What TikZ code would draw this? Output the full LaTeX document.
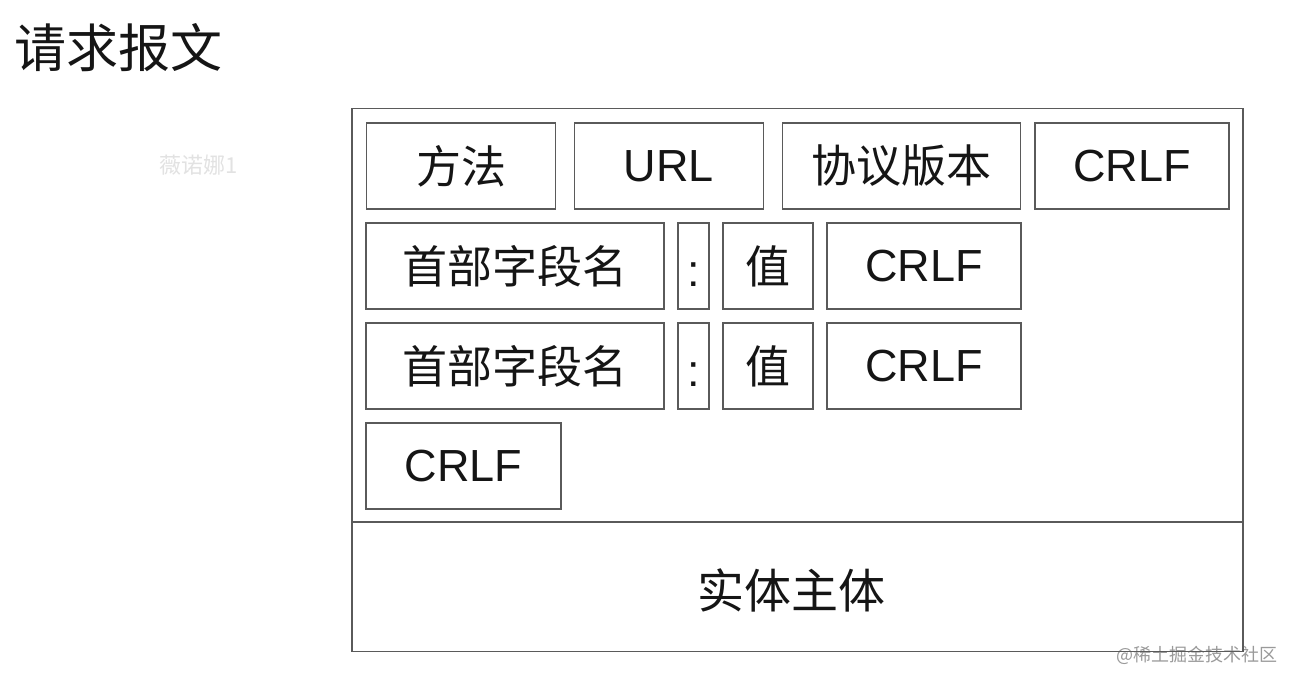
\documentclass[tikz,border=0pt]{standalone}
\usepackage{fontspec}
\setmainfont{Liberation Sans}
\newfontfamily\cjk{Noto Sans CJK SC}
\definecolor{boxline}{HTML}{5A5A5A}
\definecolor{txt}{HTML}{151515}
\definecolor{wmark}{HTML}{E2E2E2}
\definecolor{wmark2}{HTML}{9A9A9A}
\begin{document}
\begin{tikzpicture}[x=1pt,y=-1pt,
  cell/.style={draw=boxline, line width=1.8pt, inner sep=0pt, text=txt,
    font=\fontsize{45}{45}\selectfont},
  cjkcell/.style={cell, font=\cjk\fontsize{45}{45}\selectfont},
  frame/.style={draw=boxline, line width=1.8pt}
]
\useasboundingbox (0,0) rectangle (1300,686);
\fill[white] (0,0) rectangle (1300,686);
% title
\node[anchor=west, text=txt, font=\cjk\fontsize{52}{52}\selectfont] (title) at (11,48) {请求报文};
% watermark
\node[text=wmark, font=\cjk\fontsize{22}{22}\selectfont] (wm) at (199,165) {薇诺娜1};
\node[anchor=east, text=wmark2, font=\cjk\fontsize{18}{18}\selectfont] (wm2) at (1281,655) {@稀土掘金技术社区};
% outer frame
\node[frame, minimum width=891pt, minimum height=543pt, inner sep=0pt] (outer) at (797.5,380) {};
\coordinate (divL) at (352,522);
\coordinate (divR) at (1243,522);
\draw[frame] (divL) -- (divR);
% row 1
\node[cjkcell, minimum width=189pt, minimum height=86pt] (method) at (461,166) {方法};
\node[cell, minimum width=189pt, minimum height=86pt] (url) at (669,166) {URL};
\node[cjkcell, minimum width=238pt, minimum height=86pt] (ver) at (901.5,166) {协议版本};
\node[cell, minimum width=194pt, minimum height=86pt] (crlf1) at (1132,166) {CRLF};
% row 2
\node[cjkcell, minimum width=298pt, minimum height=86pt] (h1) at (515,266) {首部字段名};
\node[cell, minimum width=31pt, minimum height=86pt] (c1) at (693.5,266) {\smash{\raisebox{-20pt}{:}}};
\node[cjkcell, minimum width=90pt, minimum height=86pt] (v1) at (768,266) {值};
\node[cell, minimum width=194pt, minimum height=86pt] (crlf2) at (924,266) {CRLF};
% row 3
\node[cjkcell, minimum width=298pt, minimum height=86pt] (h2) at (515,366) {首部字段名};
\node[cell, minimum width=31pt, minimum height=86pt] (c2) at (693.5,366) {\smash{\raisebox{-20pt}{:}}};
\node[cjkcell, minimum width=90pt, minimum height=86pt] (v2) at (768,366) {值};
\node[cell, minimum width=194pt, minimum height=86pt] (crlf3) at (924,366) {CRLF};
% row 4
\node[cell, minimum width=195pt, minimum height=86pt] (crlf4) at (463.5,466) {CRLF};
% body
\node[text=txt, font=\cjk\fontsize{47}{47}\selectfont] (body) at (791,590) {实体主体};
\end{tikzpicture}
\end{document}
